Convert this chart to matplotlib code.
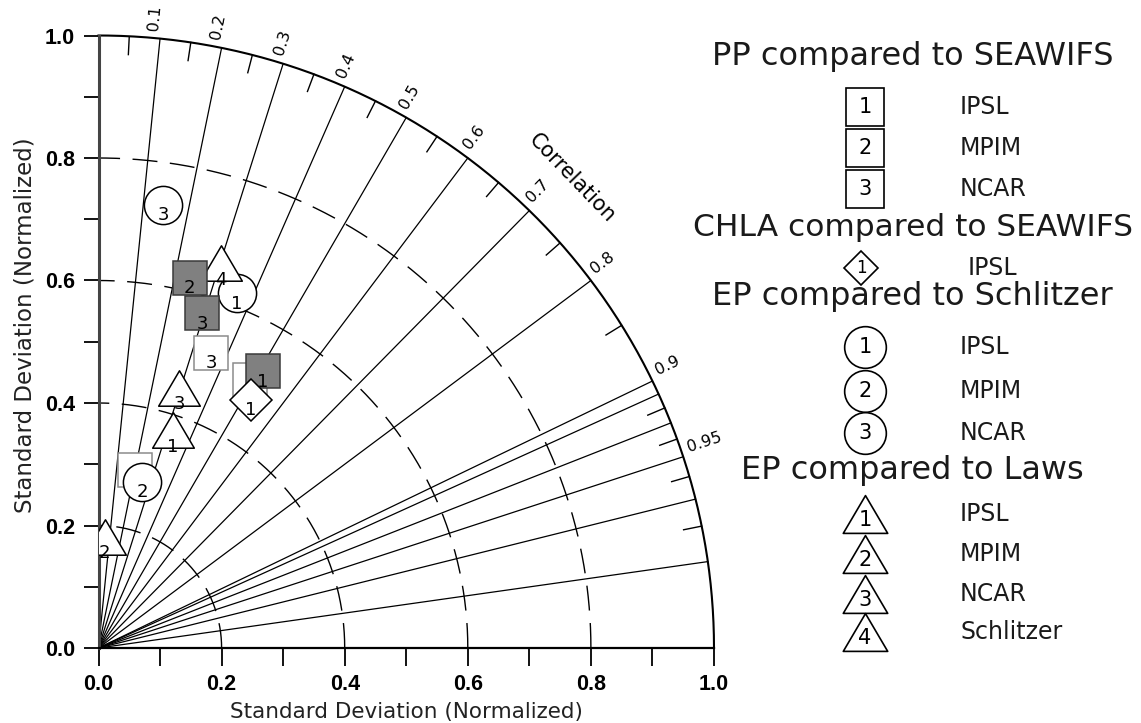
import numpy as np
import matplotlib.pyplot as plt
from matplotlib.path import Path

plt.rcParams['font.family'] = ['DejaVu Sans']

# ---- data (std normalized, correlation) ----
pp_std = [0.502, 0.297, 0.516]          # PP vs SEAWIFS, open squares
pp_cor = [0.490, 0.199, 0.355]
pp2_std = [0.525, 0.622, 0.572]         # grey filled squares
pp2_cor = [0.509, 0.238, 0.294]
chla_std = [0.475]                      # CHLA vs SEAWIFS, diamond
chla_cor = [0.522]
eps_std = [0.621, 0.280, 0.731]         # EP vs Schlitzer, circles
eps_cor = [0.362, 0.253, 0.144]
epl_std = [0.376, 0.182, 0.445, 0.659]  # EP vs Laws, triangles
epl_cor = [0.321, 0.055, 0.295, 0.302]

models = ['IPSL', 'MPIM', 'NCAR']
laws_models = ['IPSL', 'MPIM', 'NCAR', 'Schlitzer']

corr_lines = [0.1, 0.2, 0.3, 0.4, 0.5, 0.6, 0.7, 0.8, 0.9, 0.91, 0.93, 0.95, 0.97, 0.99]
corr_labels = [0.1, 0.2, 0.3, 0.4, 0.5, 0.6, 0.7, 0.8, 0.9, 0.95]
corr_minor = [0.05, 0.15, 0.25, 0.35, 0.45, 0.55, 0.65, 0.75, 0.85, 0.92, 0.94, 0.96, 0.98]
std_arcs = [0.2, 0.4, 0.6, 0.8]

tri = Path([(0, 0.85), (-1, -0.85), (1, -0.85), (0, 0.85)], closed=True)


def xy(std, cor):
    std = np.asarray(std)
    cor = np.asarray(cor)
    return std * cor, std * np.sin(np.arccos(cor))


fig = plt.figure(figsize=(11.41, 7.23), dpi=100)
ax = fig.add_axes([98.5 / 1141, 75 / 723, 615.5 / 1141, 612.5 / 723])
ax.set_xlim(0, 1)
ax.set_ylim(0, 1)
for s in ['top', 'right']:
    ax.spines[s].set_visible(False)
ax.spines['left'].set_linewidth(2.2)
ax.spines['left'].set_color('#444444')
ax.spines['bottom'].set_linewidth(1.6)

ax.set_xticks(np.arange(0, 1.01, 0.2))
ax.set_yticks(np.arange(0, 1.01, 0.2))
ax.set_xticks(np.arange(0.1, 1.0, 0.2), minor=True)
ax.set_yticks(np.arange(0.1, 1.0, 0.2), minor=True)
ax.xaxis.set_major_formatter(plt.FormatStrFormatter('%.1f'))
ax.yaxis.set_major_formatter(plt.FormatStrFormatter('%.1f'))
ax.tick_params(axis='x', which='both', direction='out', length=13, width=1.3, pad=6)
ax.tick_params(axis='y', which='both', direction='out', length=11, width=1.3, pad=6)
for lab in ax.get_xticklabels() + ax.get_yticklabels():
    lab.set_fontfamily('Liberation Sans')
    lab.set_fontweight('bold')
    lab.set_fontsize(15.5)

ax.set_xlabel('Standard Deviation (Normalized)', fontsize=15.5, color='#222222')
ax.set_ylabel('Standard Deviation (Normalized)', fontsize=16.5, color='#222222')
ax.xaxis.set_label_coords(0.50, -0.088)
ax.yaxis.set_label_coords(-0.101, 0.527)

# outer arc, correlation rays, dashed std arcs
t = np.linspace(0, np.pi / 2, 300)
ax.plot(np.cos(t), np.sin(t), color='black', lw=1.5, clip_on=False, zorder=2)
for c in corr_lines:
    a = np.arccos(c)
    ax.plot([0, np.cos(a)], [0, np.sin(a)], color='black', lw=0.9, zorder=1)
for c in corr_minor:
    a = np.arccos(c)
    ax.plot([0.97 * np.cos(a), np.cos(a)], [0.97 * np.sin(a), np.sin(a)],
            color='black', lw=1.0, zorder=1)
for r in std_arcs:
    ax.plot(r * np.cos(t), r * np.sin(t), color='black', lw=1.0,
            dashes=(18, 9), zorder=1)
for c in corr_labels:
    a = np.arccos(c)
    ax.text(1.012 * np.cos(a), 1.012 * np.sin(a), '%g' % c, rotation=np.degrees(a),
            rotation_mode='anchor', ha='left', va='bottom', fontsize=11.5)
ax.text(1.087 * np.cos(np.radians(44.9)), 1.087 * np.sin(np.radians(44.9)),
        'Correlation', rotation=-46, ha='center', va='center', fontsize=15)


def marks(std, cor, marker, ms, fc, ec, z, dy=-7.5):
    x, y = xy(std, cor)
    for i in range(len(x)):
        ax.plot(x[i], y[i], marker=marker, ms=ms, mfc=fc, mec=ec, mew=1.1,
                ls='none', zorder=z)
        ax.annotate(str(i + 1), (x[i], y[i]), xytext=(0, dy), textcoords='offset points',
                    ha='center', va='center', fontsize=13, zorder=z + 0.5,
                    annotation_clip=False)


marks(pp_std, pp_cor, 's', 24.5, 'white', '#8c8c8c', 3)
marks(eps_std, eps_cor, 'o', 27.5, 'white', 'black', 4)
marks(epl_std, epl_cor, tri, 30, 'white', 'black', 5, dy=-12)
marks(pp2_std, pp2_cor, 's', 24.5, '#808080', '#3a3a3a', 6)
marks(chla_std, chla_cor, 'D', 21.5, 'white', 'black', 7)

# ---- legend drawn in figure pixels ----
lax = fig.add_axes([0, 0, 1, 1])
lax.set_xlim(0, 1141)
lax.set_ylim(723, 0)
lax.axis('off')

title_kw = dict(ha='center', va='center', fontsize=23, color='#1a1a1a')
item_kw = dict(ha='left', va='center', fontsize=17, color='#1a1a1a')
num_kw = dict(ha='center', va='center', fontsize=15)

lax.text(913, 56, 'PP compared to SEAWIFS', **title_kw)
for i, (m, yy) in enumerate(zip(models, [107, 148, 189])):
    lax.plot(865, yy, marker='s', ms=27, mfc='white', mec='black', mew=1.2)
    lax.text(865, yy, str(i + 1), **num_kw)
    lax.text(960, yy, m, **item_kw)

lax.text(913, 227, 'CHLA compared to SEAWIFS', ha='center', va='center',
         fontsize=22.5, color='#1a1a1a')
lax.plot(861, 268, marker='D', ms=17, mfc='white', mec='black', mew=1.2)
lax.text(861, 268, '1', ha='center', va='center', fontsize=12)
lax.text(968, 268, models[0], **item_kw)

lax.text(912, 296, 'EP compared to Schlitzer', **title_kw)
for i, (m, yy) in enumerate(zip(models, [347, 391, 433])):
    lax.plot(865, yy, marker='o', ms=30, mfc='white', mec='black', mew=1.2)
    lax.text(865, yy, str(i + 1), **num_kw)
    lax.text(960, yy, m, **item_kw)

lax.text(912, 471, 'EP compared to Laws', **title_kw)
for i, (m, yy) in enumerate(zip(laws_models, [514, 554, 594, 632])):
    lax.plot(865, yy, marker=tri, ms=32, mfc='white', mec='black', mew=1.2)
    lax.text(865, yy + 6, str(i + 1), **num_kw)
    lax.text(960, yy, m, **item_kw)

fig.savefig('out.png', dpi=100)
